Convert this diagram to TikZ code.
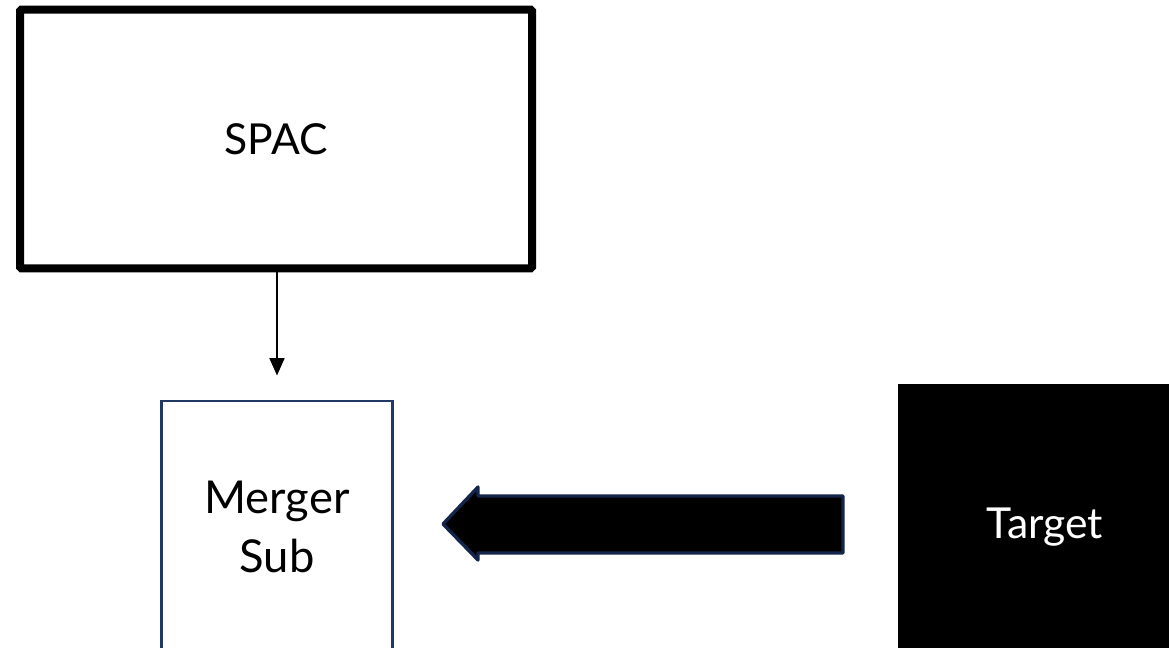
\documentclass[tikz,border=0pt]{standalone}
\usepackage{fontspec}
\setmainfont{Lato}
\usetikzlibrary{arrows.meta}
\definecolor{subnavy}{HTML}{1F3864}
\definecolor{arrownavy}{HTML}{13254A}
\tikzset{
  entity/.style={draw, line width=6pt, rounded corners=1pt, inner sep=0pt,
    font=\fontsize{32}{38}\selectfont, align=center},
}
\begin{document}
\begin{tikzpicture}[x=0.75pt,y=0.75pt,yscale=-1,xscale=1]
        \useasboundingbox (0,0) rectangle (1169,647);
        \clip (0,0) rectangle (1169,647);

        %Shape: Rectangle [id:spac]
        \node[entity, minimum width=384pt, minimum height=194pt] (spac) at (276,139) {SPAC};
        %Shape: Rectangle [id:msub]
        \node[entity, draw=subnavy, line width=2.2pt, rounded corners=0pt, minimum width=173pt, minimum height=189pt,
          font=\fontsize{34}{44}\selectfont] (msub) at (277,527) {Merger\\Sub};
        %Shape: Rectangle [id:target]
        \node[entity, draw=none, fill=black, text=white, rounded corners=0pt, minimum width=221pt, minimum height=215pt] (target) at (1045,527) {Target};

        %Straight Lines
        \draw[line width=2pt, -{Triangle[length=13pt,width=11pt]}, shorten >=18pt] ([xshift=0.75pt]spac.south) -- (msub.north);

        %Shape: Left Arrow [id:flow]
        \draw[arrownavy, fill=black, line width=2.5pt, line join=round]
          (843,496) -- (478,496) -- (478,487) -- (443,524) -- (478,560) -- (478,553) -- (843,553) -- cycle;

\end{tikzpicture}
\end{document}
